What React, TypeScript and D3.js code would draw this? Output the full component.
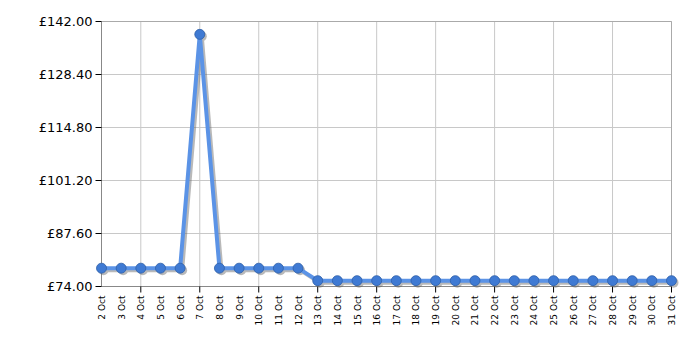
import React from "react";
import * as d3 from "d3";

const days: string[] = [
  "2 Oct","3 Oct","4 Oct","5 Oct","6 Oct","7 Oct","8 Oct","9 Oct","10 Oct","11 Oct",
  "12 Oct","13 Oct","14 Oct","15 Oct","16 Oct","17 Oct","18 Oct","19 Oct","20 Oct","21 Oct",
  "22 Oct","23 Oct","24 Oct","25 Oct","26 Oct","27 Oct","28 Oct","29 Oct","30 Oct","31 Oct",
];
const prices: number[] = [
  78.7, 78.7, 78.7, 78.7, 78.7, 138.7, 78.7, 78.7, 78.7, 78.7,
  78.7, 75.5, 75.5, 75.5, 75.5, 75.5, 75.5, 75.5, 75.5, 75.5,
  75.5, 75.5, 75.5, 75.5, 75.5, 75.5, 75.5, 75.5, 75.5, 75.5,
];
const yTicks: number[] = [74, 87.6, 101.2, 114.8, 128.4, 142];
const gridDays: string[] = ["4 Oct","7 Oct","10 Oct","13 Oct","16 Oct","19 Oct","22 Oct","25 Oct","28 Oct","31 Oct"];

export default function App() {
  const W = 700, H = 350;
  const left = 101.5, right = 671.5, top = 21.5, bottom = 286.5;
  const x = d3.scalePoint<string>().domain(days).range([left, right]);
  const y = d3.scaleLinear().domain([74, 142]).range([bottom, top]);
  const line = d3.line<number>().x((_, i) => x(days[i])!).y((d) => y(d));
  const path = line(prices) || "";
  const font = "Verdana, 'DejaVu Sans', sans-serif";
  return (
    <svg width={W} height={H} style={{ position: "absolute", left: 0, top: 0 }}>
      <rect width={W} height={H} fill="#fff" />
      {yTicks.map((t) => (
        <line key={"gy" + t} x1={left} x2={right} y1={y(t)} y2={y(t)} stroke="#c8c8c8" strokeWidth={1} />
      ))}
      {gridDays.map((d) => (
        <line key={"gx" + d} x1={x(d)} x2={x(d)} y1={top} y2={bottom} stroke="#c8c8c8" strokeWidth={1} />
      ))}
      <line x1={left} x2={right} y1={top} y2={top} stroke="#aaa" />
      <line x1={right} x2={right} y1={top} y2={bottom} stroke="#aaa" />
      <line x1={left} x2={left} y1={top} y2={bottom} stroke="#888" />
      <line x1={left} x2={right} y1={bottom} y2={bottom} stroke="#888" />
      {yTicks.map((t) => (
        <g key={"yt" + t}>
          <line x1={left - 6} x2={left} y1={y(t)} y2={y(t)} stroke="#000" />
          <text x={left - 9} y={y(t)} dy="0.35em" textAnchor="end" fontFamily={font} fontSize={13} fill="#000">
            {"£" + t.toFixed(2)}
          </text>
        </g>
      ))}
      {gridDays.map((d) => (
        <line key={"xt" + d} x1={x(d)} x2={x(d)} y1={bottom} y2={bottom + 6} stroke="#000" />
      ))}
      {days.map((d) => (
        <text
          key={"xl" + d}
          transform={`translate(${x(d)! + 3.5},${bottom + 9}) rotate(-90)`}
          textAnchor="end"
          fontFamily={font}
          fontSize={9}
          fill="#000"
        >
          {d}
        </text>
      ))}
      <g transform="translate(2,2)" opacity={0.45}>
        <path d={path} fill="none" stroke="#666" strokeWidth={4} strokeLinejoin="round" />
        {prices.map((p, i) => (
          <circle key={"s" + i} cx={x(days[i])} cy={y(p)} r={5} fill="#666" />
        ))}
      </g>
      <path d={path} fill="none" stroke="#5b93e6" strokeWidth={4} strokeLinejoin="round" />
      {prices.map((p, i) => (
        <circle key={"c" + i} cx={x(days[i])} cy={y(p)} r={5} fill="#3f7ad3" stroke="#2f5fa8" strokeWidth={0.8} />
      ))}
    </svg>
  );
}
